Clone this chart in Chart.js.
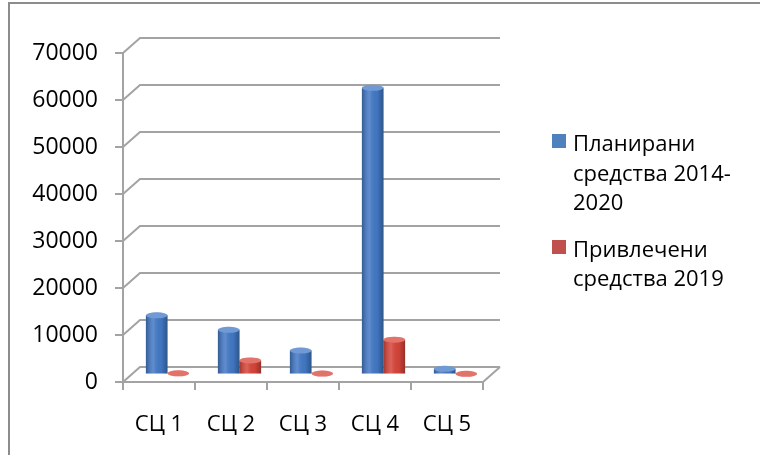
<!DOCTYPE html>
<html>
<head>
<meta charset="utf-8">
<script src="https://cdn.jsdelivr.net/npm/chart.js@4/dist/chart.umd.min.js"></script>
<style>
  html, body { margin: 0; padding: 0; background: #fff; }
  .wrap { position: relative; width: 760px; height: 455px; overflow: hidden; }
  .frame { position: absolute; left: 8px; top: 2px; width: 800px; height: 500px;
           border-left: 2px solid #8c8c8c; border-top: 2px solid #8c8c8c; }
  canvas { position: absolute; left: 0; top: 0; }
  .legend { position: absolute; left: 552px; top: 128px; font-family: "Open Sans", sans-serif;
            font-size: 22px; line-height: 29.5px; color: #000; }
  .item { position: relative; padding-left: 21px; margin-bottom: 17px; }
  .swatch { position: absolute; left: 0; top: 6px; width: 14px; height: 14px; }
</style>
</head>
<body>
<div class="wrap">
  <div class="frame"></div>
  <canvas id="chart" width="760" height="455"></canvas>
  <div class="legend" id="legend"></div>
</div>
<script>
const categories = ['СЦ 1', 'СЦ 2', 'СЦ 3', 'СЦ 4', 'СЦ 5'];
const planned = [12600, 9500, 5100, 61000, 1200];
const attracted = [250, 3000, 200, 7400, 150];
const seriesNames = [['Планирани', 'средства 2014-', '2020'], ['Привлечени', 'средства 2019']];
const yTicks = [0, 10000, 20000, 30000, 40000, 50000, 60000, 70000];

const blue = '#4279c6';
const red = '#d8453a';
const gridGray = '#a3a3a3';

// fake depth: bars sit half way back, the wall sits full depth back
const depth = { dx: 17, dy: -15 };

const wall3d = {
  id: 'wall3d',
  beforeDatasetsDraw(chart) {
    const { ctx, chartArea: a, scales: { y } } = chart;
    ctx.save();
    ctx.strokeStyle = gridGray;
    ctx.lineWidth = 2;
    yTicks.forEach(v => {
      const py = y.getPixelForValue(v);
      ctx.beginPath();
      ctx.moveTo(a.left, py);
      ctx.lineTo(a.left + depth.dx, py + depth.dy);
      ctx.lineTo(a.right + depth.dx, py + depth.dy);
      ctx.stroke();
    });
    // floor right edge
    const p0 = y.getPixelForValue(0);
    ctx.beginPath();
    ctx.moveTo(a.right, p0);
    ctx.lineTo(a.right + depth.dx, p0 + depth.dy);
    ctx.stroke();
    ctx.restore();
    ctx.save();
    ctx.translate(depth.dx / 2, depth.dy / 2);
  },
  afterDatasetsDraw(chart) {
    const ctx = chart.ctx;
    chart.data.datasets.forEach((ds, i) => {
      chart.getDatasetMeta(i).data.forEach(bar => {
        const l = bar.x - bar.width / 2, w = bar.width;
        const g = ctx.createLinearGradient(l, 0, l + w, 0);
        g.addColorStop(0, 'rgba(0,0,0,0.25)');
        g.addColorStop(0.35, 'rgba(255,255,255,0.15)');
        g.addColorStop(0.7, 'rgba(0,0,0,0.03)');
        g.addColorStop(1, 'rgba(0,0,0,0.3)');
        ctx.fillStyle = g;
        ctx.fillRect(l, bar.y, w, bar.base - bar.y);
        ctx.beginPath();
        ctx.ellipse(bar.x, bar.y, w / 2, 3, 0, 0, Math.PI * 2);
        ctx.fillStyle = ds.backgroundColor;
        ctx.fill();
        ctx.fillStyle = 'rgba(255,255,255,0.25)';
        ctx.fill();
      });
    });
    ctx.restore();
  }
};

new Chart(document.getElementById('chart'), {
  type: 'bar',
  data: {
    labels: categories,
    datasets: [
      { label: seriesNames[0].join(' '), data: planned, backgroundColor: blue },
      { label: seriesNames[1].join(' '), data: attracted, backgroundColor: red }
    ]
  },
  options: {
    responsive: false,
    animation: false,
    categoryPercentage: 0.6,
    barPercentage: 1,
    layout: { padding: { left: 10, top: 53, right: 277, bottom: 0 } },
    plugins: { legend: { display: false }, tooltip: { enabled: false } },
    scales: {
      x: {
        afterFit(s) { s.height = 73; },
        grid: { drawOnChartArea: false, tickLength: 8, color: gridGray, lineWidth: 2 },
        border: { color: gridGray, width: 2 },
        ticks: { color: '#000', padding: 22, font: { family: 'Open Sans', size: 22 } }
      },
      y: {
        min: 0, max: 70000,
        afterFit(s) { s.width = 113; },
        afterBuildTicks(s) { s.ticks = yTicks.map(v => ({ value: v })); },
        grid: { drawOnChartArea: false, tickLength: 8, color: gridGray, lineWidth: 2 },
        border: { color: gridGray, width: 2 },
        ticks: { color: '#000', padding: 17, font: { family: 'Open Sans', size: 23 },
                 callback: v => String(v) }
      }
    }
  },
  plugins: [wall3d]
});

const legend = document.getElementById('legend');
['#4f81bd', '#c0504d'].forEach((c, i) => {
  const item = document.createElement('div');
  item.className = 'item';
  item.innerHTML = '<span class="swatch" style="background:' + c + '"></span>' +
    seriesNames[i].join('<br>');
  legend.appendChild(item);
});
</script>
</body>
</html>
